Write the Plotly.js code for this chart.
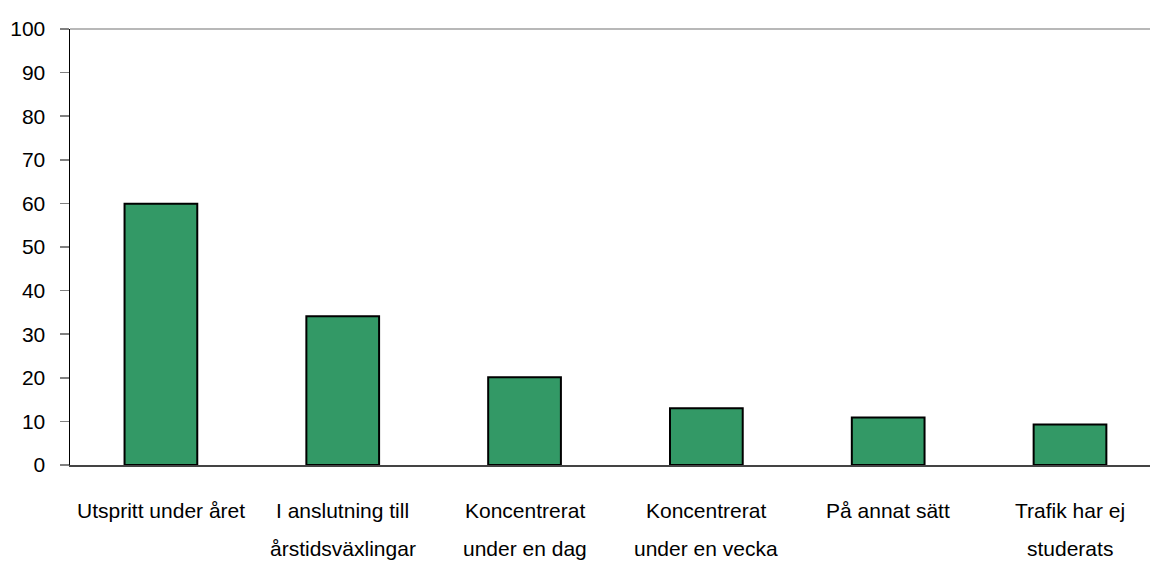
<!DOCTYPE html>
<html><head><meta charset="utf-8">
<script src="https://cdn.plot.ly/plotly-3.0.1.min.js"></script>
<style>html,body{margin:0;padding:0;background:#fff}#chart{width:1150px;height:562px}</style>
</head><body><div id="chart"></div>
<script>
const labelLine1 = ["Utspritt under året", "I anslutning till", "Koncentrerat", "Koncentrerat", "På annat sätt", "Trafik har ej"];
const labelLine2 = ["", "årstidsväxlingar", "under en dag", "under en vecka", "", "studerats"];
const categories = labelLine1.map((a, i) => (a + " " + labelLine2[i]).trim());
const values = [59.9, 34.1, 20.1, 13.0, 10.9, 9.3];
const yTicks = [0, 10, 20, 30, 40, 50, 60, 70, 80, 90, 100];

const FONT = '"Liberation Sans Narrow", "Arial Narrow", "Liberation Sans", Arial, sans-serif';

const plotTop = 29, plotBottom = 465, plotH = plotBottom - plotTop;
const toPaper = px => (plotBottom - px) / plotH;

const annotations = [];
categories.forEach((c, i) => {
  annotations.push({x: c, xref: 'x', y: toPaper(510), yref: 'paper', text: labelLine1[i], showarrow: false,
    font: {family: FONT, size: 21, color: '#000'}, xanchor: 'center', yanchor: 'middle'});
  if (labelLine2[i]) annotations.push({x: c, xref: 'x', y: toPaper(548), yref: 'paper', text: labelLine2[i], showarrow: false,
    font: {family: FONT, size: 21, color: '#000'}, xanchor: 'center', yanchor: 'middle'});
});

const data = [{
  type: 'bar', x: categories, y: values,
  marker: {color: '#339966', line: {color: '#000', width: 2}},
  hoverinfo: 'x+y'
}];

const layout = {
  width: 1150, height: 562,
  margin: {l: 69.5, r: 0, t: plotTop, b: 562 - plotBottom, pad: 0},
  paper_bgcolor: '#fff', plot_bgcolor: '#fff',
  showlegend: false,
  bargap: 0.6,
  font: {family: FONT, size: 21, color: '#000'},
  xaxis: {type: 'category', categoryorder: 'array', categoryarray: categories,
    range: [-0.5, 5.44], showticklabels: false, ticks: '', showgrid: false, zeroline: false,
    showline: true, linecolor: '#444', linewidth: 1.5},
  yaxis: {range: [0, 100], tickvals: yTicks, ticktext: yTicks.map(String),
    ticks: 'outside', ticklen: 9, tickcolor: '#808080', tickwidth: 1.5,
    showgrid: false, zeroline: false, showline: true, linecolor: '#000', linewidth: 1.5,
    ticklabelstandoff: 10, tickfont: {family: FONT, size: 21, color: '#000'}},
  shapes: [{type: 'line', xref: 'paper', yref: 'paper', x0: 0, x1: 1, y0: 1, y1: 1,
    line: {color: '#a0a0a0', width: 1.5}}],
  annotations: annotations
};
Plotly.newPlot('chart', data, layout, {staticPlot: true});
</script></body></html>
